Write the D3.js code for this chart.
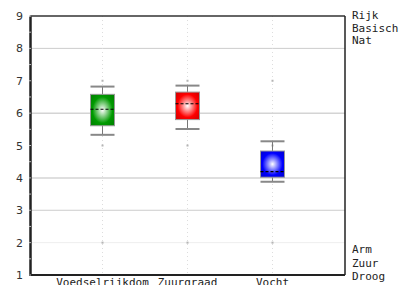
<!DOCTYPE html>
<html>
<head>
<meta charset="utf-8">
<script src="https://cdn.jsdelivr.net/npm/d3@7"></script>
<style>
  body { margin: 0; background: #fff; }
  svg { display: block; }
</style>
</head>
<body>
<svg id="chart" width="403" height="285"></svg>
<script>
// Chart data.
const categories = ["Voedselrijkdom", "Zuurgraad", "Vocht"];
const whiskerLow = [5.33, 5.51, 3.88];
const boxLow = [5.61, 5.80, 4.02];
const medians = [6.12, 6.29, 4.19];
const boxHigh = [6.58, 6.65, 4.83];
const whiskerHigh = [6.82, 6.85, 5.13];
const boxColors = ["#009a00", "#ff0000", "#0000ff"];
const yTicks = [1, 2, 3, 4, 5, 6, 7, 8, 9];
const gridValues = [8, 6, 4, 3, 2];
const markerValues = [7, 5, 2];
const topLabels = ["Rijk", "Basisch", "Nat"];
const bottomLabels = ["Arm", "Zuur", "Droog"];

const svg = d3.select("#chart");
const margin = { left: 30, right: 58, top: 16, bottom: 10 };
const width = 403, height = 285;

const x = d3.scalePoint()
    .domain(categories)
    .range([margin.left, width - margin.right])
    .padding(0.853);

const y = d3.scaleLinear()
    .domain([1, 9])
    .range([height - margin.bottom, margin.top]);

const boxWidth = 24;

// Gradients for the boxes.
const defs = svg.append("defs");
boxColors.forEach((c, i) => {
    const g = defs.append("radialGradient")
        .attr("id", "grad" + i)
        .attr("cx", "50%").attr("cy", "50%").attr("r", "60%");
    g.append("stop").attr("offset", "0%").attr("stop-color", "#ffffff");
    g.append("stop").attr("offset", "70%").attr("stop-color", c);
    g.append("stop").attr("offset", "100%").attr("stop-color", d3.color(c).darker(0.4));
});

// Horizontal grid lines.
svg.append("g")
    .selectAll("line")
    .data(gridValues)
    .join("line")
    .attr("x1", margin.left)
    .attr("x2", width - margin.right)
    .attr("y1", d => y(d))
    .attr("y2", d => y(d))
    .attr("stroke", d => d === 2 ? "#eeeeee" : (d === 6 || d === 4 ? "#d4d4d4" : "#cccccc"))
    .attr("stroke-width", d => (d === 6 || d === 4) ? 1.5 : 1);

// Vertical dotted lines per category.
svg.append("g")
    .selectAll("line")
    .data(categories)
    .join("line")
    .attr("x1", d => x(d)).attr("x2", d => x(d))
    .attr("y1", y(9)).attr("y2", y(1))
    .attr("stroke", "#dddddd")
    .attr("stroke-dasharray", "1,3");

// Small markers on the dotted lines.
const markerData = [];
categories.forEach(c => markerValues.forEach(v => markerData.push({ c, v })));
svg.append("g")
    .selectAll("rect")
    .data(markerData)
    .join("rect")
    .attr("x", d => x(d.c) - 1)
    .attr("y", d => y(d.v) - 1)
    .attr("width", 2).attr("height", 2)
    .attr("fill", "#b4b4b4");

// Box plots.
const boxes = svg.append("g")
    .selectAll("g")
    .data(categories)
    .join("g");

boxes.append("line")
    .attr("x1", d => x(d)).attr("x2", d => x(d))
    .attr("y1", (d, i) => y(whiskerHigh[i]))
    .attr("y2", (d, i) => y(whiskerLow[i]))
    .attr("stroke", "#777777");

boxes.selectAll(".cap")
    .data((d, i) => [{ c: d, v: whiskerHigh[i] }, { c: d, v: whiskerLow[i] }])
    .join("line")
    .attr("class", "cap")
    .attr("x1", d => x(d.c) - boxWidth / 2)
    .attr("x2", d => x(d.c) + boxWidth / 2)
    .attr("y1", d => y(d.v)).attr("y2", d => y(d.v))
    .attr("stroke", "#888888")
    .attr("stroke-width", 2);

boxes.append("rect")
    .attr("x", d => x(d) - boxWidth / 2)
    .attr("y", (d, i) => y(boxHigh[i]))
    .attr("width", boxWidth)
    .attr("height", (d, i) => y(boxLow[i]) - y(boxHigh[i]))
    .attr("fill", (d, i) => "url(#grad" + i + ")")
    .attr("stroke", "#999999");

boxes.append("line")
    .attr("x1", d => x(d) - boxWidth / 2)
    .attr("x2", d => x(d) + boxWidth / 2)
    .attr("y1", (d, i) => y(medians[i]))
    .attr("y2", (d, i) => y(medians[i]))
    .attr("stroke", "#000000")
    .attr("stroke-width", 1.2)
    .attr("stroke-dasharray", "3,2");

// Frame: thick left and bottom, thin top and right.
svg.append("line")
    .attr("x1", margin.left).attr("x2", width - margin.right)
    .attr("y1", y(9)).attr("y2", y(9))
    .attr("stroke", "#333333").attr("stroke-width", 1.5);
svg.append("line")
    .attr("x1", width - margin.right).attr("x2", width - margin.right)
    .attr("y1", y(9)).attr("y2", y(1))
    .attr("stroke", "#222222").attr("stroke-width", 1.5);
svg.append("line")
    .attr("x1", margin.left - 1).attr("x2", width - margin.right)
    .attr("y1", y(1)).attr("y2", y(1))
    .attr("stroke", "#222222").attr("stroke-width", 2);

// Left axis with numbers.
const yAxis = svg.append("g")
    .attr("transform", `translate(${margin.left},0)`)
    .call(d3.axisLeft(y).tickValues(yTicks).tickFormat(d3.format("d")).tickSize(0).tickPadding(7));
yAxis.select(".domain")
    .attr("stroke", "#222222")
    .attr("stroke-width", 2.5);
yAxis.selectAll("text")
    .attr("font-family", "DejaVu Sans, sans-serif")
    .attr("font-size", 11)
    .attr("fill", "#333333");

// Faint minor ticks on the left axis line.
svg.append("g")
    .selectAll("line")
    .data(d3.range(1, 9.01, 0.5))
    .join("line")
    .attr("x1", margin.left - 1).attr("x2", margin.left + 1)
    .attr("y1", d => y(d)).attr("y2", d => y(d))
    .attr("stroke", "#bbbbbb");

// Category labels (partly below the picture edge, as in the reference).
svg.append("g")
    .selectAll("text")
    .data(categories)
    .join("text")
    .attr("x", d => x(d))
    .attr("y", height + 1)
    .attr("text-anchor", "middle")
    .attr("font-family", "DejaVu Sans Mono, monospace")
    .attr("font-size", 11)
    .attr("fill", "#222222")
    .text(d => d);

// Right side labels.
svg.append("g")
    .selectAll("text")
    .data(topLabels)
    .join("text")
    .attr("x", width - margin.right + 7)
    .attr("y", (d, i) => 19 + i * 12.5)
    .attr("font-family", "DejaVu Sans Mono, monospace")
    .attr("font-size", 11)
    .attr("fill", "#222222")
    .text(d => d);

svg.append("g")
    .selectAll("text")
    .data(bottomLabels)
    .join("text")
    .attr("x", width - margin.right + 7)
    .attr("y", (d, i) => 253 + i * 13.5)
    .attr("font-family", "DejaVu Sans Mono, monospace")
    .attr("font-size", 11)
    .attr("fill", "#222222")
    .text(d => d);
</script>
</body>
</html>
